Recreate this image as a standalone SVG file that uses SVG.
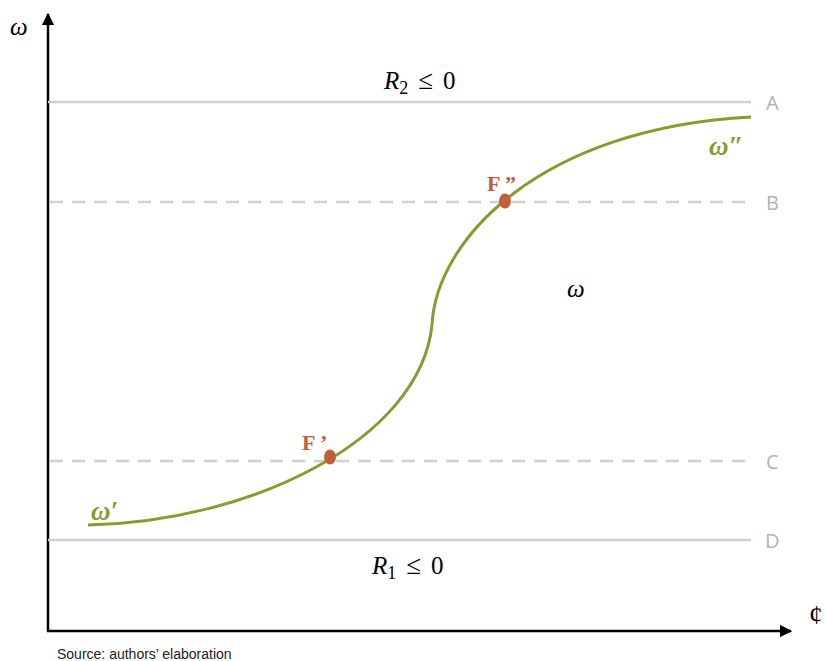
<svg xmlns="http://www.w3.org/2000/svg" width="826" height="661" viewBox="0 0 826 661">
<defs>
<style>
.ax{stroke:#000;stroke-width:2.5;fill:none}
.solid{stroke:#d0d0d0;stroke-width:2.5;fill:none}
.dash{stroke:#d0d0d0;stroke-width:2.5;fill:none;stroke-dasharray:13,9}
.lbl{font-family:"Open Sans","Liberation Sans",sans-serif;font-size:20px;fill:#b3b3b3}
.math{font-family:"Liberation Serif",serif;font-style:italic;font-size:25px;fill:#000}
.mnum{font-family:"Liberation Serif",serif;font-size:18px;fill:#000}
.curve{stroke:#8b9a2f;stroke-width:3;fill:none}
.om{font-family:"Liberation Serif",serif;font-style:italic;font-weight:bold;font-size:27px;fill:#8b9a2f}
.F{font-family:"Liberation Serif",serif;font-weight:bold;font-size:22px;fill:#c0603a}
.dot{fill:#c0603a}
</style>
<marker id="ah" viewBox="0 0 10 10" refX="9" refY="5" markerWidth="5" markerHeight="5" orient="auto-start-reverse" markerUnits="strokeWidth">
<path d="M0,0 L10,5 L0,10 z" fill="#000"/>
</marker>
</defs>
<rect width="826" height="661" fill="#fff"/>
<g id="axes">
<line class="ax" x1="48" y1="631" x2="48" y2="14" marker-end="url(#ah)"/>
<line class="ax" x1="47" y1="631" x2="791" y2="631" marker-end="url(#ah)"/>
<text class="math" x="10" y="35" font-size="23">ω</text>
<text x="809" y="624" font-family="Liberation Serif,serif" font-size="27" fill="#000">¢</text>
</g>
<g id="lines">
<line class="solid" x1="48" y1="102" x2="751" y2="102"/>
<line class="dash" x1="50" y1="202" x2="751" y2="202"/>
<line class="dash" x1="50" y1="461" x2="751" y2="461"/>
<line class="solid" x1="48" y1="540" x2="751" y2="540"/>
<text class="lbl" x="766" y="110">A</text>
<text class="lbl" x="766" y="210">B</text>
<text class="lbl" x="766" y="469">C</text>
<text class="lbl" x="765" y="548">D</text>
</g>
<g id="curve">
<path class="curve" d="M88,525 C250,522 420,440 432,325 C436,240 540,128 751,117"/>
<text class="om" x="91" y="520">ω′</text>
<text class="om" x="709" y="155">ω″</text>
</g>
<g id="Fprime">
<ellipse class="dot" cx="330" cy="457" rx="6" ry="7.5"/>
<text class="F" x="302" y="450">F ’</text>
</g>
<g id="Fdprime">
<ellipse class="dot" cx="505" cy="201" rx="6" ry="7.5"/>
<text class="F" x="487" y="191">F ”</text>
</g>
<g id="labels">
<text class="math" x="384" y="89">R<tspan class="mnum" font-style="normal" dy="5">2</tspan><tspan dy="-5" font-style="normal" dx="10" font-size="27">≤</tspan><tspan font-style="normal" dx="10">0</tspan></text>
<text class="math" x="372" y="574">R<tspan class="mnum" font-style="normal" dy="5">1</tspan><tspan dy="-5" font-style="normal" dx="10" font-size="27">≤</tspan><tspan font-style="normal" dx="10">0</tspan></text>
<text class="math" x="567" y="297" font-size="22">ω</text>
<text x="57" y="659" font-family="Liberation Sans,Arial,sans-serif" font-size="14" fill="#222">Source: authors’ elaboration</text>
</g>
</svg>
